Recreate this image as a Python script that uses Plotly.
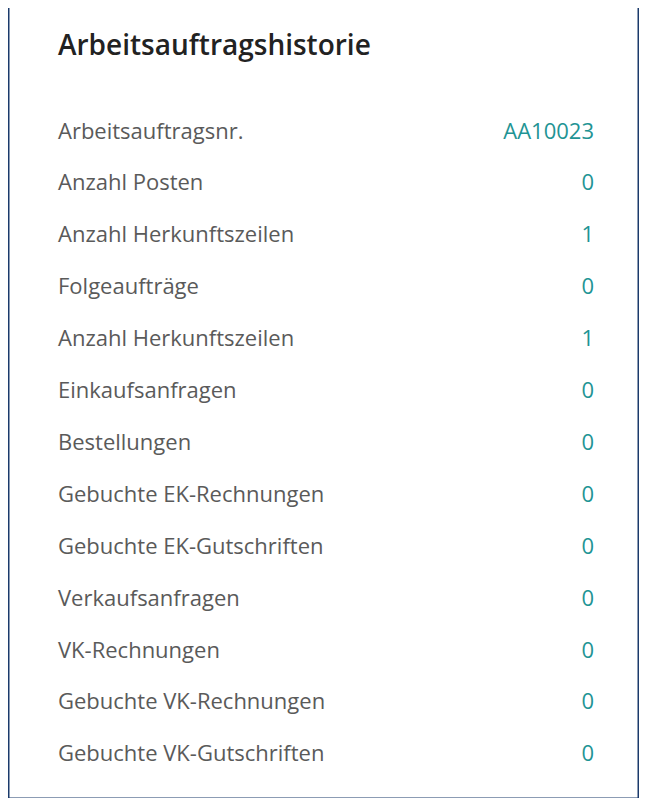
import plotly.graph_objects as go

title = "Arbeitsauftragshistorie"
labels = ["Arbeitsauftragsnr.", "Anzahl Posten", "Anzahl Herkunftszeilen", "Folgeaufträge",
          "Anzahl Herkunftszeilen", "Einkaufsanfragen", "Bestellungen", "Gebuchte EK-Rechnungen",
          "Gebuchte EK-Gutschriften", "Verkaufsanfragen", "VK-Rechnungen",
          "Gebuchte VK-Rechnungen", "Gebuchte VK-Gutschriften"]
values = ["AA10023", "0", "1", "0", "1", "0", "0", "0", "0", "0", "0", "0", "0"]

OFF = 8
W, H = 647 - 2 * OFF, 806 - 2 * OFF
row_y = [133 - OFF + i * 51.9 for i in range(len(labels))]

fig = go.Figure()
fig.add_trace(go.Scatter(x=[58 - OFF] * len(labels), y=row_y, text=labels, mode="text",
                         textposition="middle right",
                         textfont=dict(family="Open Sans", size=22, color="#5a5a5a"),
                         hoverinfo="skip"))
fig.add_trace(go.Scatter(x=[594 - OFF] * len(values), y=row_y, text=values, mode="text",
                         textposition="middle left",
                         textfont=dict(family="Open Sans", size=22, color="#1f9494"),
                         hoverinfo="skip"))
fig.add_trace(go.Scatter(x=[58 - OFF], y=[48 - OFF], text=[title], mode="text",
                         textposition="middle right",
                         textfont=dict(family="Open Sans", size=28, color="#222222", weight=600),
                         hoverinfo="skip"))
fig.add_shape(type="rect", x0=6 - OFF + 2, x1=639 - OFF, y0=4 - OFF + 2, y1=799 - OFF,
              line=dict(color="#1b3a6b", width=3), xref="x", yref="y")
fig.update_layout(width=W, height=H, margin=dict(l=0, r=0, t=0, b=0),
                  paper_bgcolor="white", plot_bgcolor="white", showlegend=False,
                  xaxis=dict(range=[0, W], visible=False, fixedrange=True),
                  yaxis=dict(range=[H, 0], visible=False, fixedrange=True))
fig.write_html("out.html")
